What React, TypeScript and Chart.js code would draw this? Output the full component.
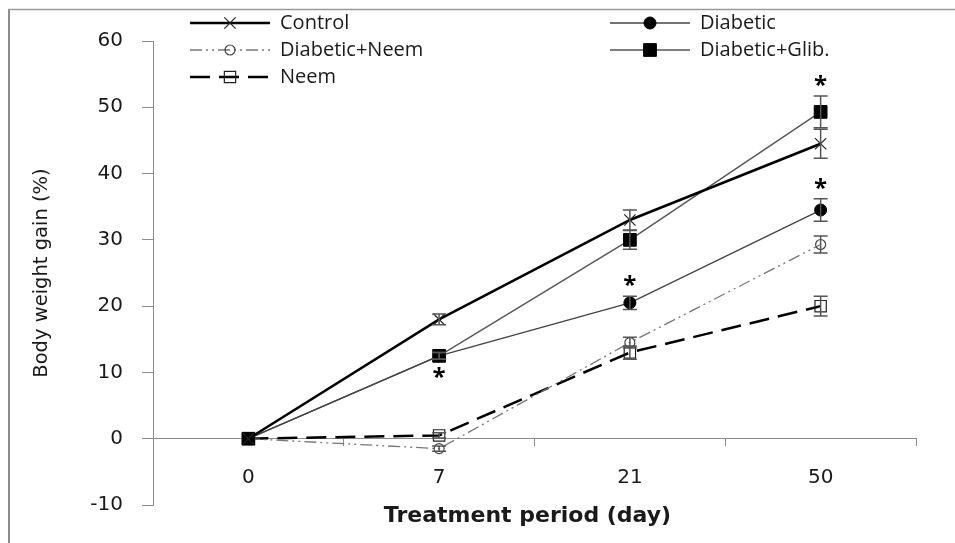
import React, { useEffect, useRef } from 'react';
import { Chart, registerables } from 'chart.js';
import { drawPoint } from 'chart.js/helpers';

Chart.register(...registerables);

const days = ['0', '7', '21', '50'];
const control = [0, 18, 33, 44.5];
const controlErr = [0, 0.8, 1.5, 2.2];
const diabetic = [0, 12.5, 20.5, 34.5];
const diabeticErr = [0, 0.5, 1.0, 1.7];
const diabeticNeem = [0, -1.5, 14.5, 29.3];
const diabeticNeemErr = [0, 0.4, 0.8, 1.3];
const diabeticGlib = [0, 12.5, 30, 49.3];
const diabeticGlibErr = [0, 0.5, 1.4, 2.4];
const neem = [0, 0.5, 13, 20];
const neemErr = [0, 0.4, 1.0, 1.5];
const diabeticStars = ['', '', 'above', 'above'];
const glibStars = ['', 'below', '', 'above'];
const yMin = -10;
const yMax = 60;
const yStep = 10;
const yTitle = 'Body weight gain (%)';
const xTitle = 'Treatment period (day)';

const FONT = "'Open Sans', 'DejaVu Sans', sans-serif";
const AXFONT = "'DejaVu Sans', sans-serif";
const TEXT = '#1a1a1a';

const framePlugin = {
  id: 'frame',
  beforeDraw(chart: any) {
    const ctx = chart.ctx;
    ctx.save();
    ctx.fillStyle = '#ffffff';
    ctx.fillRect(0, 0, chart.width, chart.height);
    ctx.strokeStyle = '#8c8c8c';
    ctx.lineWidth = 2;
    ctx.beginPath();
    ctx.moveTo(9, 9);
    ctx.lineTo(9, chart.height);
    ctx.stroke();
    ctx.lineWidth = 1.5;
    ctx.strokeStyle = '#9a9a9a';
    ctx.beginPath();
    ctx.moveTo(8, 9.5);
    ctx.lineTo(chart.width, 9.5);
    ctx.stroke();
    ctx.restore();
  },
};

const errorBarPlugin = {
  id: 'errorBars',
  afterDatasetsDraw(chart: any) {
    const ctx = chart.ctx;
    const xs = chart.scales.x;
    const ys = chart.scales.y;
    ctx.save();
    chart.data.datasets.forEach((ds: any) => {
      const errs: number[] = ds.errors || [];
      const stars: string[] = ds.stars || [];
      ds.data.forEach((v: number, i: number) => {
        const e = errs[i] || 0;
        const x = xs.getPixelForValue(i);
        const yTop = ys.getPixelForValue(v + e);
        const yBot = ys.getPixelForValue(v - e);
        if (e > 0) {
          ctx.strokeStyle = '#555';
          ctx.lineWidth = 1.5;
          ctx.beginPath();
          ctx.moveTo(x, yTop);
          ctx.lineTo(x, yBot);
          ctx.moveTo(x - 7, yTop);
          ctx.lineTo(x + 7, yTop);
          ctx.moveTo(x - 7, yBot);
          ctx.lineTo(x + 7, yBot);
          ctx.stroke();
        }
        const s = stars[i];
        if (s) {
          ctx.fillStyle = '#000';
          ctx.font = `bold 24px ${FONT}`;
          ctx.textAlign = 'center';
          ctx.textBaseline = 'alphabetic';
          if (s === 'above') ctx.fillText('*', x, yTop - 3);
          else ctx.fillText('*', x, yBot + 26);
        }
      });
    });
    ctx.restore();
  },
};

const legendPlugin = {
  id: 'customLegend',
  afterDraw(chart: any) {
    const ctx = chart.ctx;
    const cols = [
      { x0: 190, x1: 270, m: 230, t: 280 },
      { x0: 610, x1: 690, m: 650, t: 700 },
    ];
    const rows = [23, 50, 77];
    ctx.save();
    chart.data.datasets.forEach((ds: any, idx: number) => {
      const c = cols[idx % 2];
      const y = rows[Math.floor(idx / 2)];
      ctx.strokeStyle = ds.borderColor;
      ctx.lineWidth = ds.borderWidth;
      ctx.setLineDash(ds.borderDash || []);
      ctx.beginPath();
      ctx.moveTo(c.x0, y);
      ctx.lineTo(c.x1, y);
      ctx.stroke();
      ctx.setLineDash([]);
      ctx.fillStyle = ds.pointBackgroundColor;
      ctx.strokeStyle = ds.pointBorderColor;
      ctx.lineWidth = ds.pointBorderWidth;
      drawPoint(ctx, { pointStyle: ds.pointStyle, radius: ds.pointRadius, rotation: 0, borderWidth: ds.pointBorderWidth } as any, c.m, y);
      ctx.fillStyle = TEXT;
      ctx.font = `20px ${FONT}`;
      ctx.textAlign = 'left';
      ctx.textBaseline = 'middle';
      ctx.fillText(ds.label, c.t, y);
    });
    ctx.restore();
  },
};

const xTitlePlugin = {
  id: 'xTitle',
  afterDraw(chart: any) {
    const ctx = chart.ctx;
    const a = chart.chartArea;
    ctx.save();
    ctx.fillStyle = TEXT;
    ctx.font = `bold 22px ${AXFONT}`;
    ctx.textAlign = 'center';
    ctx.textBaseline = 'middle';
    ctx.fillText(xTitle, (a.left + a.right) / 2 - 7, a.bottom + 11);
    ctx.restore();
  },
};

export default function App() {
  const ref = useRef<HTMLCanvasElement>(null);
  useEffect(() => {
    if (!ref.current) return;
    const chart = new Chart(ref.current, {
      type: 'line',
      data: {
        labels: days,
        datasets: [
          {
            label: 'Control', data: control, errors: controlErr,
            borderColor: '#000', borderWidth: 2.5,
            pointStyle: 'crossRot', pointRadius: 8, pointBorderWidth: 1.2,
            pointBorderColor: '#222', pointBackgroundColor: '#000',
          } as any,
          {
            label: 'Diabetic', data: diabetic, errors: diabeticErr, stars: diabeticStars,
            borderColor: '#444', borderWidth: 1.4,
            pointStyle: 'circle', pointRadius: 6, pointBorderWidth: 1,
            pointBorderColor: '#000', pointBackgroundColor: '#000',
          } as any,
          {
            label: 'Diabetic+Neem', data: diabeticNeem, errors: diabeticNeemErr,
            borderColor: '#777', borderWidth: 1.3, borderDash: [12, 4, 2, 4, 2, 4],
            pointStyle: 'circle', pointRadius: 5, pointBorderWidth: 1.2,
            pointBorderColor: '#444', pointBackgroundColor: 'rgba(0,0,0,0)',
          } as any,
          {
            label: 'Diabetic+Glib.', data: diabeticGlib, errors: diabeticGlibErr, stars: glibStars,
            borderColor: '#555', borderWidth: 1.4,
            pointStyle: 'rect', pointRadius: 9, pointBorderWidth: 1,
            pointBorderColor: '#000', pointBackgroundColor: '#000',
          } as any,
          {
            label: 'Neem', data: neem, errors: neemErr,
            borderColor: '#000', borderWidth: 2.5, borderDash: [20, 9],
            pointStyle: 'rect', pointRadius: 8, pointBorderWidth: 1.2,
            pointBorderColor: '#222', pointBackgroundColor: 'rgba(0,0,0,0)',
          } as any,
        ],
      },
      options: {
        animation: false,
        responsive: true,
        maintainAspectRatio: false,
        layout: { padding: { top: 41, right: 39, bottom: 38, left: 0 } },
        plugins: { legend: { display: false }, tooltip: { enabled: false } },
        elements: { line: { tension: 0 } },
        scales: {
          x: {
            type: 'category',
            position: { y: 0 } as any,
            offset: true,
            ticks: { color: TEXT, font: { family: AXFONT, size: 20 }, padding: 20, maxRotation: 0 },
            grid: { display: true, drawOnChartArea: false, drawTicks: true, offset: true, tickLength: 7, color: '#8c8c8c' },
            border: { display: true, color: '#8c8c8c', width: 1 },
          },
          y: {
            min: yMin, max: yMax,
            ticks: { stepSize: yStep, color: TEXT, font: { family: AXFONT, size: 20 }, padding: 19 },
            grid: { display: true, drawOnChartArea: false, drawTicks: true, tickLength: 11, color: '#8c8c8c' },
            border: { display: true, color: '#8c8c8c', width: 1 },
            title: { display: true, text: yTitle, color: TEXT, font: { family: AXFONT, size: 19.5 }, padding: { top: 30, bottom: 0 } },
            afterFit: (s: any) => { s.width = 153; },
          },
        },
      },
      plugins: [framePlugin, errorBarPlugin, legendPlugin, xTitlePlugin],
    } as any);
    return () => chart.destroy();
  }, []);
  return (
    <div style={{ position: 'fixed', left: 0, top: 0, width: 955, height: 543 }}>
      <canvas ref={ref} />
    </div>
  );
}
